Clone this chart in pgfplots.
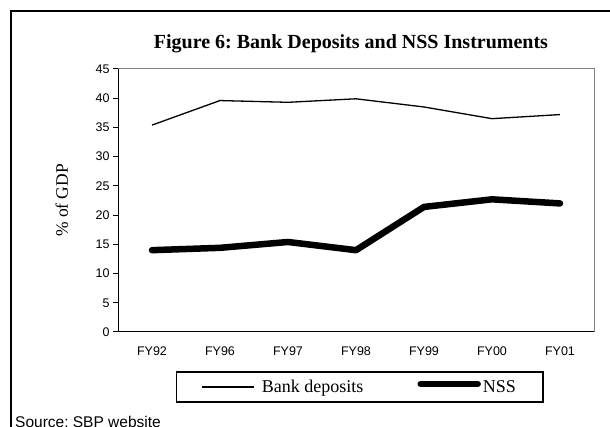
\documentclass[border=0pt]{standalone}
\usepackage{fontspec}
\setmainfont{Liberation Serif}
\setsansfont{Liberation Sans}
\usepackage{pgfplots}
\pgfplotsset{compat=1.18}
\definecolor{bordergray}{RGB}{128,128,128}
\pgfplotsset{
  banklegend/.style={legend image code/.code={\draw[##1] (0pt,0pt) -- (52pt,0pt); \path (57pt,0pt);}},
  nsslegend/.style={legend image code/.code={\draw[##1] (0pt,3pt) -- (57pt,3pt);}},
}
\frenchspacing
\begin{document}
\begin{tikzpicture}[x=1pt,y=1pt]
\path[use as bounding box] (0,0) rectangle (610,427);
\draw[line width=1.3pt] (11,-30) -- (11,416) -- (640,416);
\node[font=\bfseries\fontsize{20}{22}\selectfont] at (351,383) {Figure 6: Bank Deposits and NSS Instruments};
\begin{axis}[name=ax,
  at={(118pt,95pt)}, anchor=south west,
  width=476pt, height=263pt, scale only axis,
  xmin=-0.5, xmax=6.5, ymin=0, ymax=45,
  xtick={0,1,2,3,4,5,6},
  xticklabels={FY92,FY96,FY97,FY98,FY99,FY00,FY01},
  ytick={0,5,...,45},
  tick align=outside, xtick pos=left, ytick pos=left,
  major tick length=5pt,
  tick style={black, line width=1pt},
  x tick style={draw=none},
  extra x ticks={-0.5,0.5,1.5,2.5,3.5,4.5,5.5,6.5},
  extra x tick labels={},
  extra x tick style={tick style={draw=black, line width=1pt}, major tick length=4pt},
  axis line style={black, line width=1pt},
  /pgf/number format/assume math mode=true,
  ticklabel style={font=\sffamily\fontsize{12.5}{14}\selectfont},
  xticklabel style={yshift=-6pt},
  ylabel={\% of GDP},
  ylabel style={font=\fontsize{17.5}{20}\selectfont, at={(axis description cs:-0.118,0.5)}, anchor=center},
  legend columns=2,
  legend style={at={(axis description cs:0.508,-0.209)}, anchor=center,
    draw=black, line width=1.3pt, inner xsep=25pt, inner ysep=6pt,
    font=\fontsize{18}{20}\selectfont,
    /tikz/every even column/.append style={column sep=52pt}},
]
\addplot[black, line width=1.3pt, line join=round, banklegend] coordinates {
(0,35.4) (1,39.6) (2,39.3) (3,39.9) (4,38.5) (5,36.5) (6,37.2)};
\addlegendentry{Bank deposits}
\addplot[black, line width=6.5pt, line join=round, line cap=round, nsslegend] coordinates {
(0,14.0) (1,14.4) (2,15.4) (3,14.0) (4,21.4) (5,22.7) (6,22.0)};
\addlegendentry{NSS}
\end{axis}
\draw[bordergray, line width=1pt] (ax.north west) -- (ax.north east) -- (ax.south east);
\node[font=\sffamily\fontsize{15.5}{17}\selectfont, anchor=base west, inner sep=0pt] at (15,-1) {Source: SBP website};
\end{tikzpicture}
\end{document}
